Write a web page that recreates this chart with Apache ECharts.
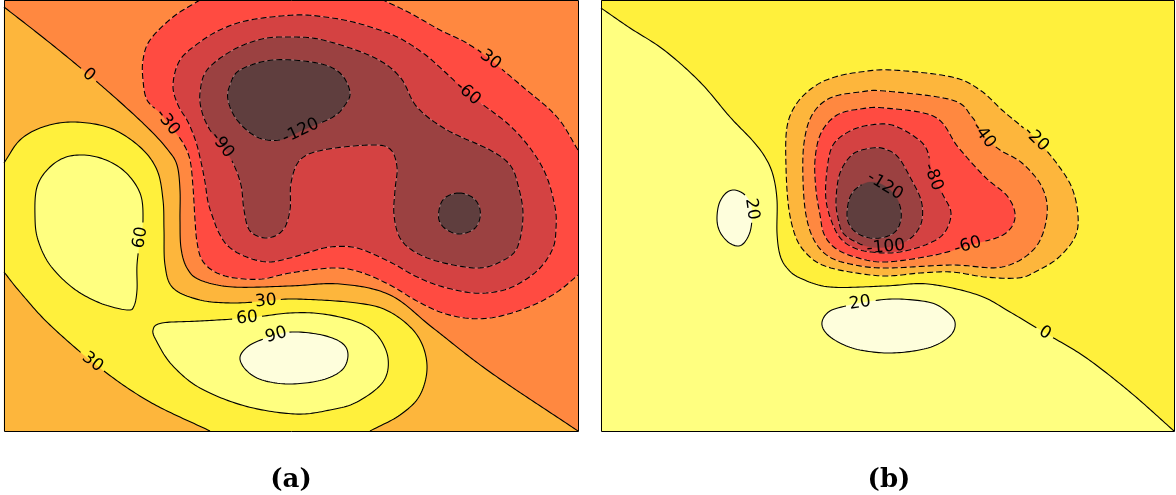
<!DOCTYPE html>
<html>
<head>
<meta charset="utf-8">
<script src="https://cdn.jsdelivr.net/npm/echarts@6/dist/echarts.min.js"></script>
<style>
  html, body { margin: 0; padding: 0; background: #fff; }
  #chart { width: 1176px; height: 495px; }
</style>
</head>
<body>
<div id="chart"></div>
<script>
// contour regions, [x, y] in axis units
// panel (a): levels every 30
var A_GT0 = [[0,4.24],[0.41,3.92],[0.79,3.61],[1.16,3.29],[1.46,3.01],[1.64,2.81],[1.73,2.66],[1.76,2.41],[1.76,2.11],[1.77,1.83],[1.83,1.63],[1.96,1.51],[2.29,1.44],[2.86,1.45],[3.36,1.47],[3.86,1.36],[4.29,1.03],[4.86,0.59],[5.74,0],[0,0]];
var A_GT30 = [[0,2.68],[0.16,2.91],[0.39,3.04],[0.69,3.09],[1.06,3.03],[1.36,2.84],[1.53,2.61],[1.59,2.31],[1.60,2.01],[1.61,1.66],[1.69,1.43],[1.96,1.31],[2.29,1.28],[2.64,1.30],[2.91,1.32],[3.53,1.28],[3.86,1.19],[4.13,0.96],[4.23,0.66],[4.16,0.36],[3.96,0.16],[3.66,0],[2.06,0],[1.46,0.29],[0.96,0.63],[0.46,1.06],[0.16,1.39],[0,1.59]];
var A_GT60_L = [[0.31,2.14],[0.33,2.44],[0.46,2.64],[0.66,2.75],[0.93,2.74],[1.19,2.61],[1.36,2.38],[1.39,2.11],[1.36,1.91],[1.33,1.66],[1.33,1.41],[1.30,1.25],[1.23,1.21],[0.96,1.28],[0.69,1.43],[0.46,1.66],[0.34,1.91]];
var A_GT60_R = [[1.49,1.01],[1.58,1.08],[1.96,1.10],[2.43,1.13],[2.86,1.18],[3.19,1.17],[3.53,1.09],[3.73,0.96],[3.84,0.73],[3.79,0.49],[3.53,0.29],[3.26,0.21],[2.91,0.17],[2.41,0.25],[1.96,0.43],[1.68,0.66],[1.53,0.89]];
var A_GT90 = [[2.36,0.74],[2.46,0.86],[2.66,0.94],[2.88,0.99],[3.18,0.96],[3.38,0.88],[3.44,0.76],[3.38,0.61],[3.18,0.51],[2.86,0.47],[2.58,0.51],[2.42,0.61]];
var A_LT30 = [[1.96,4.31],[1.69,4.14],[1.46,3.91],[1.39,3.71],[1.39,3.51],[1.43,3.31],[1.56,3.18],[1.68,3.03],[1.79,2.88],[1.86,2.71],[1.89,2.44],[1.91,2.11],[1.93,1.89],[1.98,1.71],[2.11,1.59],[2.31,1.53],[2.58,1.52],[2.86,1.58],[3.29,1.63],[3.56,1.59],[3.86,1.46],[4.11,1.31],[4.36,1.19],[4.61,1.13],[4.86,1.13],[5.11,1.19],[5.36,1.29],[5.56,1.41],[5.74,1.56],[5.74,2.81],[5.53,3.14],[5.19,3.44],[4.84,3.73],[4.61,3.89],[4.36,4.01],[4.06,4.18],[3.79,4.31]];
var A_LT60 = [[2.91,4.16],[2.46,4.11],[2.18,4.02],[1.96,3.89],[1.76,3.71],[1.69,3.46],[1.74,3.26],[1.84,3.09],[1.92,2.89],[1.97,2.69],[2.01,2.49],[2.04,2.29],[2.09,2.13],[2.15,1.98],[2.24,1.85],[2.40,1.75],[2.63,1.69],[2.86,1.73],[3.06,1.79],[3.26,1.84],[3.53,1.83],[3.86,1.69],[4.11,1.55],[4.36,1.45],[4.69,1.38],[4.96,1.40],[5.16,1.48],[5.36,1.63],[5.49,1.83],[5.52,2.03],[5.51,2.24],[5.42,2.56],[5.26,2.83],[5.03,3.08],[4.66,3.36],[4.41,3.59],[4.19,3.78],[3.91,3.95],[3.53,4.08],[3.21,4.14]];
var A_LT90 = [[2.86,3.94],[3.19,3.91],[3.69,3.74],[3.96,3.54],[4.13,3.24],[4.43,3.01],[4.86,2.81],[5.06,2.66],[5.14,2.46],[5.19,2.16],[5.13,1.83],[4.96,1.69],[4.73,1.63],[4.36,1.69],[4.11,1.79],[3.96,1.93],[3.90,2.16],[3.91,2.41],[3.93,2.64],[3.86,2.82],[3.66,2.86],[3.19,2.81],[2.96,2.71],[2.87,2.48],[2.86,2.21],[2.79,2.01],[2.63,1.93],[2.46,2.00],[2.40,2.21],[2.37,2.46],[2.29,2.68],[2.18,2.86],[2.06,3.01],[1.98,3.19],[1.96,3.38],[2.03,3.61],[2.29,3.81],[2.58,3.92]];
var A_LT120_T = [[2.24,3.31],[2.26,3.46],[2.36,3.61],[2.69,3.71],[3.13,3.68],[3.36,3.58],[3.46,3.39],[3.41,3.26],[3.29,3.14],[2.99,3.01],[2.76,2.91],[2.53,2.94],[2.33,3.11]];
var A_LT120_B = [[4.55,2.38],[4.68,2.34],[4.75,2.25],[4.76,2.13],[4.70,2.02],[4.56,1.97],[4.43,2.01],[4.35,2.11],[4.36,2.25],[4.42,2.34]];
var A_LABEL_LEVEL = [0, -30, -90, -120, -30, -60, 60, 30, 60, 90, 30];
var A_LABEL_AT = [[0.84,3.57],[1.61,3.06],[2.18,2.86],[2.96,2.99],[4.83,3.74],[4.63,3.37],[1.36,1.94],[2.62,1.31],[2.43,1.13],[2.72,0.97],[0.88,0.68]];

// panel (b): levels every 20
var B_GT0 = [[0,4.23],[0.29,4.03],[0.63,3.81],[0.99,3.49],[1.29,3.14],[1.51,2.91],[1.64,2.74],[1.72,2.56],[1.76,2.31],[1.76,1.98],[1.79,1.76],[1.86,1.63],[1.99,1.53],[2.29,1.44],[2.84,1.45],[3.27,1.47],[3.77,1.36],[4.09,1.19],[4.44,0.98],[4.84,0.74],[5.29,0.39],[5.73,0],[0,0]];
var B_GT20_L = [[1.16,2.11],[1.18,2.27],[1.25,2.38],[1.34,2.41],[1.44,2.36],[1.50,2.26],[1.51,2.13],[1.49,1.99],[1.43,1.88],[1.36,1.85],[1.27,1.89],[1.19,1.99]];
var B_GT20_B = [[2.21,1.09],[2.29,1.20],[2.49,1.26],[2.59,1.28],[2.91,1.32],[3.27,1.29],[3.44,1.21],[3.54,1.09],[3.49,0.95],[3.27,0.83],[2.91,0.78],[2.59,0.81],[2.39,0.88],[2.25,0.98]];
var B_LT20 = [[1.85,2.64],[1.86,3.04],[1.96,3.28],[2.14,3.45],[2.34,3.54],[2.59,3.59],[2.91,3.61],[3.51,3.54],[3.79,3.41],[4.01,3.21],[4.19,3.06],[4.37,2.90],[4.57,2.66],[4.71,2.43],[4.77,2.16],[4.74,1.94],[4.57,1.73],[4.34,1.59],[4.17,1.53],[3.84,1.54],[3.51,1.59],[3.19,1.58],[2.84,1.55],[2.49,1.59],[2.24,1.65],[2.09,1.74],[1.96,1.91],[1.88,2.21]];
var B_LT40 = [[2.02,2.51],[2.03,2.88],[2.11,3.16],[2.29,3.33],[2.59,3.39],[2.84,3.40],[3.51,3.31],[3.71,3.14],[3.84,2.94],[3.99,2.81],[4.21,2.68],[4.41,2.44],[4.46,2.16],[4.34,1.83],[4.01,1.64],[3.51,1.66],[2.84,1.63],[2.49,1.67],[2.27,1.75],[2.13,1.91],[2.05,2.16]];
var B_LT60 = [[2.19,2.16],[2.15,2.41],[2.14,2.71],[2.20,2.98],[2.36,3.16],[2.59,3.22],[2.84,3.23],[3.34,3.14],[3.57,2.84],[3.84,2.54],[4.07,2.34],[4.14,2.13],[4.02,1.96],[3.69,1.86],[3.34,1.76],[2.84,1.69],[2.54,1.74],[2.34,1.83],[2.23,1.97]];
var B_LT80 = [[2.25,2.31],[2.26,2.61],[2.32,2.86],[2.49,3.00],[2.69,3.06],[2.91,3.06],[3.14,2.94],[3.26,2.81],[3.32,2.54],[3.42,2.36],[3.50,2.18],[3.44,1.99],[3.29,1.88],[3.04,1.80],[2.84,1.78],[2.59,1.81],[2.42,1.90],[2.32,2.06]];
var B_LT100 = [[2.35,2.31],[2.39,2.58],[2.52,2.77],[2.71,2.83],[2.84,2.82],[2.97,2.74],[3.09,2.54],[3.20,2.31],[3.21,2.11],[3.14,1.97],[3.02,1.88],[2.87,1.84],[2.69,1.84],[2.55,1.89],[2.42,1.98],[2.37,2.13]];
var B_LT120 = [[2.46,2.18],[2.49,2.34],[2.57,2.44],[2.69,2.49],[2.82,2.46],[2.93,2.37],[2.99,2.25],[3.00,2.12],[2.95,2.00],[2.84,1.94],[2.69,1.93],[2.56,1.98],[2.48,2.07]];
var B_LABEL_LEVEL = [-20, -40, -80, -120, -100, -60, 20, 20, 0];
var B_LABEL_AT = [[4.36,2.91],[3.83,2.95],[3.33,2.54],[2.83,2.42],[2.85,1.85],[3.67,1.87],[1.51,2.21],[2.59,1.28],[4.44,0.98]];

var X_MAX_A = 5.74, X_MAX_B = 5.73, Y_MAX = 4.31;

// fill colour of the band beyond each level
var FILL_A = { base: '#ff8840', '0': '#fdb63c', '30': '#fff03c', '60': '#ffff80', '90': '#fefedc',
  '-30': '#ff4b41', '-60': '#d44242', '-90': '#9b4141', '-120': '#5f3e3e' };
var FILL_B = { base: '#fff03c', '0': '#ffff80', '20': '#fefedc', '-20': '#fdb63c', '-40': '#ff8840',
  '-60': '#ff4b41', '-80': '#d44242', '-100': '#9b4141', '-120': '#5f3e3e' };

var regionsA = [
  [0, A_GT0], [30, A_GT30], [60, A_GT60_L], [60, A_GT60_R], [90, A_GT90],
  [-30, A_LT30], [-60, A_LT60], [-90, A_LT90], [-120, A_LT120_T], [-120, A_LT120_B]
];
var regionsB = [
  [0, B_GT0], [20, B_GT20_L], [20, B_GT20_B],
  [-20, B_LT20], [-40, B_LT40], [-60, B_LT60], [-80, B_LT80], [-100, B_LT100], [-120, B_LT120]
];

var LABEL_FONT = 17;

function edgeSides(p, xMax) {
  var e = 1e-6, s = [];
  if (Math.abs(p[0]) < e) s.push('l');
  if (Math.abs(p[0] - xMax) < e) s.push('r');
  if (Math.abs(p[1]) < e) s.push('b');
  if (Math.abs(p[1] - Y_MAX) < e) s.push('t');
  return s;
}

function sameEdge(a, b, xMax) {
  var sa = edgeSides(a, xMax), sb = edgeSides(b, xMax);
  return sa.some(function (s) { return sb.indexOf(s) >= 0; });
}

// catmull-rom through the contour vertices, straight along the frame
function denseRing(pts, xMax, api, box) {
  var n = pts.length;
  var px = pts.map(function (p) { return api.coord(p); });
  var out = [];
  function clamp(p) {
    return [Math.min(box[2], Math.max(box[0], p[0])), Math.min(box[3], Math.max(box[1], p[1]))];
  }
  for (var i = 0; i < n; i++) {
    var a = pts[i], b = pts[(i + 1) % n];
    var P1 = px[i], P2 = px[(i + 1) % n];
    if (sameEdge(a, b, xMax)) { out.push({ p: P1, edge: true }); continue; }
    var P0 = edgeSides(a, xMax).length ? [2 * P1[0] - P2[0], 2 * P1[1] - P2[1]] : px[(i - 1 + n) % n];
    var P3 = edgeSides(b, xMax).length ? [2 * P2[0] - P1[0], 2 * P2[1] - P1[1]] : px[(i + 2) % n];
    var len = Math.hypot(P2[0] - P1[0], P2[1] - P1[1]);
    var steps = Math.max(2, Math.ceil(len / 2.5));
    for (var k = 0; k < steps; k++) {
      var t = k / steps, t2 = t * t, t3 = t2 * t;
      var q = [0, 1].map(function (c) {
        return 0.5 * (2 * P1[c] + (-P0[c] + P2[c]) * t + (2 * P0[c] - 5 * P1[c] + 4 * P2[c] - P3[c]) * t2 +
          (-P0[c] + 3 * P1[c] - 3 * P2[c] + P3[c]) * t3);
      });
      out.push({ p: clamp(q), edge: false });
    }
  }
  return out;
}

function textWidth(s) {
  var w = 0;
  for (var i = 0; i < s.length; i++) w += (s[i] === '-' ? 0.361 : 0.636) * LABEL_FONT;
  return w;
}

function makeRender(regions, labelLevels, labelAt, fills, xMax) {
  return function (params, api) {
    var lo = api.coord([0, 0]), hi = api.coord([xMax, Y_MAX]);
    var box = [lo[0], hi[1], hi[0], lo[1]];
    var kids = [{
      type: 'rect',
      shape: { x: box[0], y: box[1], width: box[2] - box[0], height: box[3] - box[1] },
      style: { fill: fills.base }
    }];
    var rings = regions.map(function (r) {
      return { level: r[0], d: denseRing(r[1], xMax, api, box) };
    });
    rings.forEach(function (r) {
      kids.push({
        type: 'polygon',
        shape: { points: r.d.map(function (o) { return o.p; }) },
        style: { fill: fills[String(r.level)], stroke: fills[String(r.level)], lineWidth: 0.3 }
      });
    });

    // snap each label onto its contour
    var placed = labelLevels.map(function (lv, li) {
      var target = api.coord(labelAt[li]), best = null;
      rings.forEach(function (r) {
        if (r.level !== lv) return;
        r.d.forEach(function (o, j) {
          if (o.edge) return;
          var dd = Math.pow(o.p[0] - target[0], 2) + Math.pow(o.p[1] - target[1], 2);
          if (!best || dd < best.dd) best = { dd: dd, r: r, j: j };
        });
      });
      var d = best.r.d, n = d.length;
      var P = d[best.j].p, Pa = d[(best.j - 3 + n) % n].p, Pb = d[(best.j + 3) % n].p;
      var th = Math.atan2(Pb[1] - Pa[1], Pb[0] - Pa[0]);
      if (th > Math.PI / 2) th -= Math.PI;
      if (th < -Math.PI / 2) th += Math.PI;
      var txt = String(lv);
      return { level: lv, x: P[0], y: P[1], rot: -th, text: txt, r: textWidth(txt) / 2 + 4 };
    });

    rings.forEach(function (r) {
      var gaps = placed.filter(function (g) { return g.level === r.level; });
      var lines = [], cur = [], d = r.d, n = d.length;
      for (var j = 0; j < n; j++) {
        var A = d[j], B = d[(j + 1) % n];
        var mx = (A.p[0] + B.p[0]) / 2, my = (A.p[1] + B.p[1]) / 2;
        var hide = A.edge || gaps.some(function (g) { return Math.hypot(mx - g.x, my - g.y) < g.r; });
        if (hide) {
          if (cur.length > 1) lines.push(cur);
          cur = [];
        } else {
          if (!cur.length) cur.push(A.p);
          cur.push(B.p);
        }
      }
      if (cur.length > 1) {
        if (lines.length && lines[0][0] === d[0].p && cur[cur.length - 1] === d[0].p) {
          lines[0] = cur.concat(lines[0].slice(1));
        } else {
          lines.push(cur);
        }
      }
      lines.forEach(function (line) {
        if (r.level < 0) {
          kids.push({
            type: 'polyline', shape: { points: line },
            style: { stroke: 'rgba(255,255,255,0.35)', lineWidth: 0.8, fill: 'none' }
          });
        }
        kids.push({
          type: 'polyline', shape: { points: line },
          style: { stroke: '#000', lineWidth: 1.1, fill: 'none', lineDash: r.level < 0 ? [6, 3] : null }
        });
      });
    });

    placed.forEach(function (g) {
      kids.push({
        type: 'text', x: g.x, y: g.y, rotation: g.rot,
        style: {
          text: g.text, fill: '#000', fontSize: LABEL_FONT, fontFamily: 'DejaVu Sans',
          align: 'center', verticalAlign: 'middle'
        }
      });
    });

    kids.push({
      type: 'rect',
      shape: { x: box[0] + 0.5, y: box[1] + 0.5, width: box[2] - box[0], height: box[3] - box[1] },
      style: { fill: 'none', stroke: '#000', lineWidth: 1 }
    });
    return { type: 'group', children: kids };
  };
}

var chart = echarts.init(document.getElementById('chart'), null, { renderer: 'canvas' });

var option = {
  animation: false,
  grid: [
    { left: 4, top: 0, width: 574, height: 431 },
    { left: 601, top: 0, width: 573, height: 431 }
  ],
  xAxis: [
    { type: 'value', gridIndex: 0, min: 0, max: X_MAX_A, show: false },
    { type: 'value', gridIndex: 1, min: 0, max: X_MAX_B, show: false }
  ],
  yAxis: [
    { type: 'value', gridIndex: 0, min: 0, max: Y_MAX, show: false },
    { type: 'value', gridIndex: 1, min: 0, max: Y_MAX, show: false }
  ],
  graphic: [
    { type: 'text', x: 291, y: 480, style: { text: '(a)', fill: '#000', font: 'bold 26px "DejaVu Serif"', align: 'center', verticalAlign: 'middle' } },
    { type: 'text', x: 889, y: 480, style: { text: '(b)', fill: '#000', font: 'bold 26px "DejaVu Serif"', align: 'center', verticalAlign: 'middle' } }
  ],
  series: [
    {
      type: 'custom', xAxisIndex: 0, yAxisIndex: 0, clip: false,
      renderItem: makeRender(regionsA, A_LABEL_LEVEL, A_LABEL_AT, FILL_A, X_MAX_A),
      data: [[0, 0]]
    },
    {
      type: 'custom', xAxisIndex: 1, yAxisIndex: 1, clip: false,
      renderItem: makeRender(regionsB, B_LABEL_LEVEL, B_LABEL_AT, FILL_B, X_MAX_B),
      data: [[0, 0]]
    }
  ]
};

chart.setOption(option);
</script>
</body>
</html>
